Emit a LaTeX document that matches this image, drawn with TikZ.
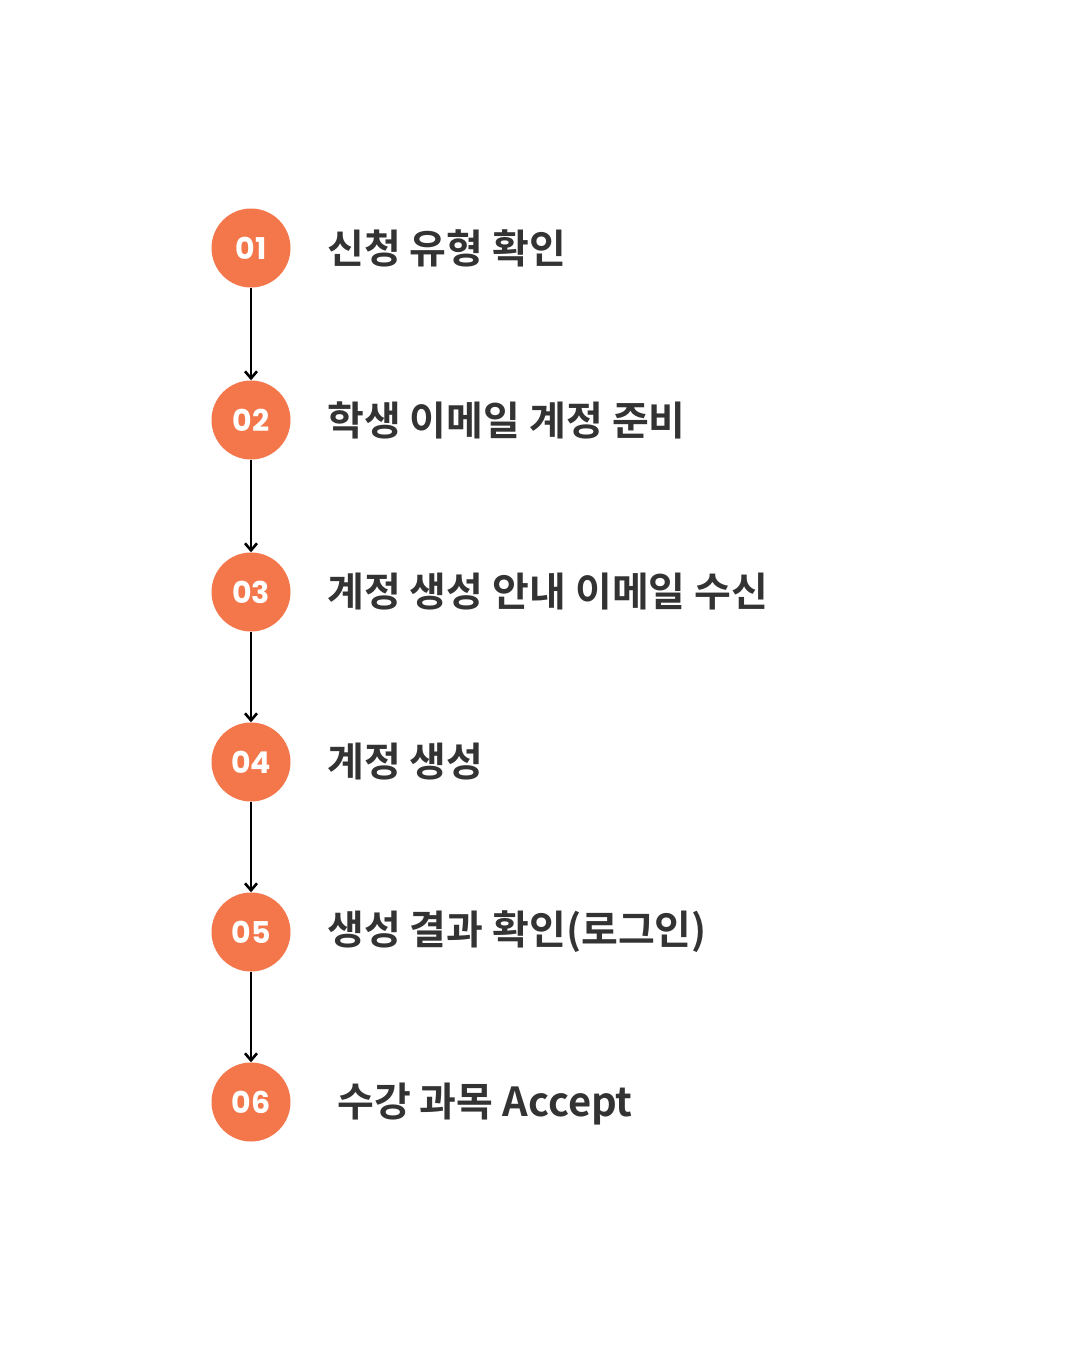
\documentclass[tikz,border=0pt]{standalone}
\usepackage{fontspec}
\setmainfont{Poppins}
\newfontfamily\kr{Noto Sans CJK KR}[BoldFont={* Bold}]
\usetikzlibrary{arrows.meta}
\definecolor{org}{HTML}{F4774B}
\definecolor{txt}{HTML}{333333}
\begin{document}
\begin{tikzpicture}[x=1pt,y=-1pt,
  stepc/.style={circle,fill=org,minimum size=79pt,inner sep=0pt,text=white,font=\fontsize{30}{30}\selectfont\bfseries},
  lab/.style={anchor=west,text=txt,font=\kr\bfseries\fontsize{40}{40}\selectfont,inner sep=0pt},
  arr/.style={-{Straight Barb[length=7pt,width=12pt]},line width=2.6pt,black}]
\useasboundingbox[fill=white] (0,0) rectangle (1080,1350);
\node[stepc] (c1) at (251,248) {01};
\node[stepc] (c2) at (251,420) {02};
\node[stepc] (c3) at (251,592) {03};
\node[stepc] (c4) at (251,762) {04};
\node[stepc] (c5) at (251,932) {05};
\node[stepc] (c6) at (251,1102) {06};
\node[lab] (t1) at (327,248) {신청 유형 확인};
\node[lab] (t2) at (327,420) {학생 이메일 계정 준비};
\node[lab] (t3) at (327,592) {계정 생성 안내 이메일 수신};
\node[lab] (t4) at (327,762) {계정 생성};
\node[lab] (t5) at (327,932) {생성 결과 확인(로그인)};
\node[lab] (t6) at (337,1104) {수강 과목 Accept};
\draw[arr] (c1) -- (c2);
\draw[arr] (c2) -- (c3);
\draw[arr] (c3) -- (c4);
\draw[arr] (c4) -- (c5);
\draw[arr] (c5) -- (c6);
\end{tikzpicture}
\end{document}
